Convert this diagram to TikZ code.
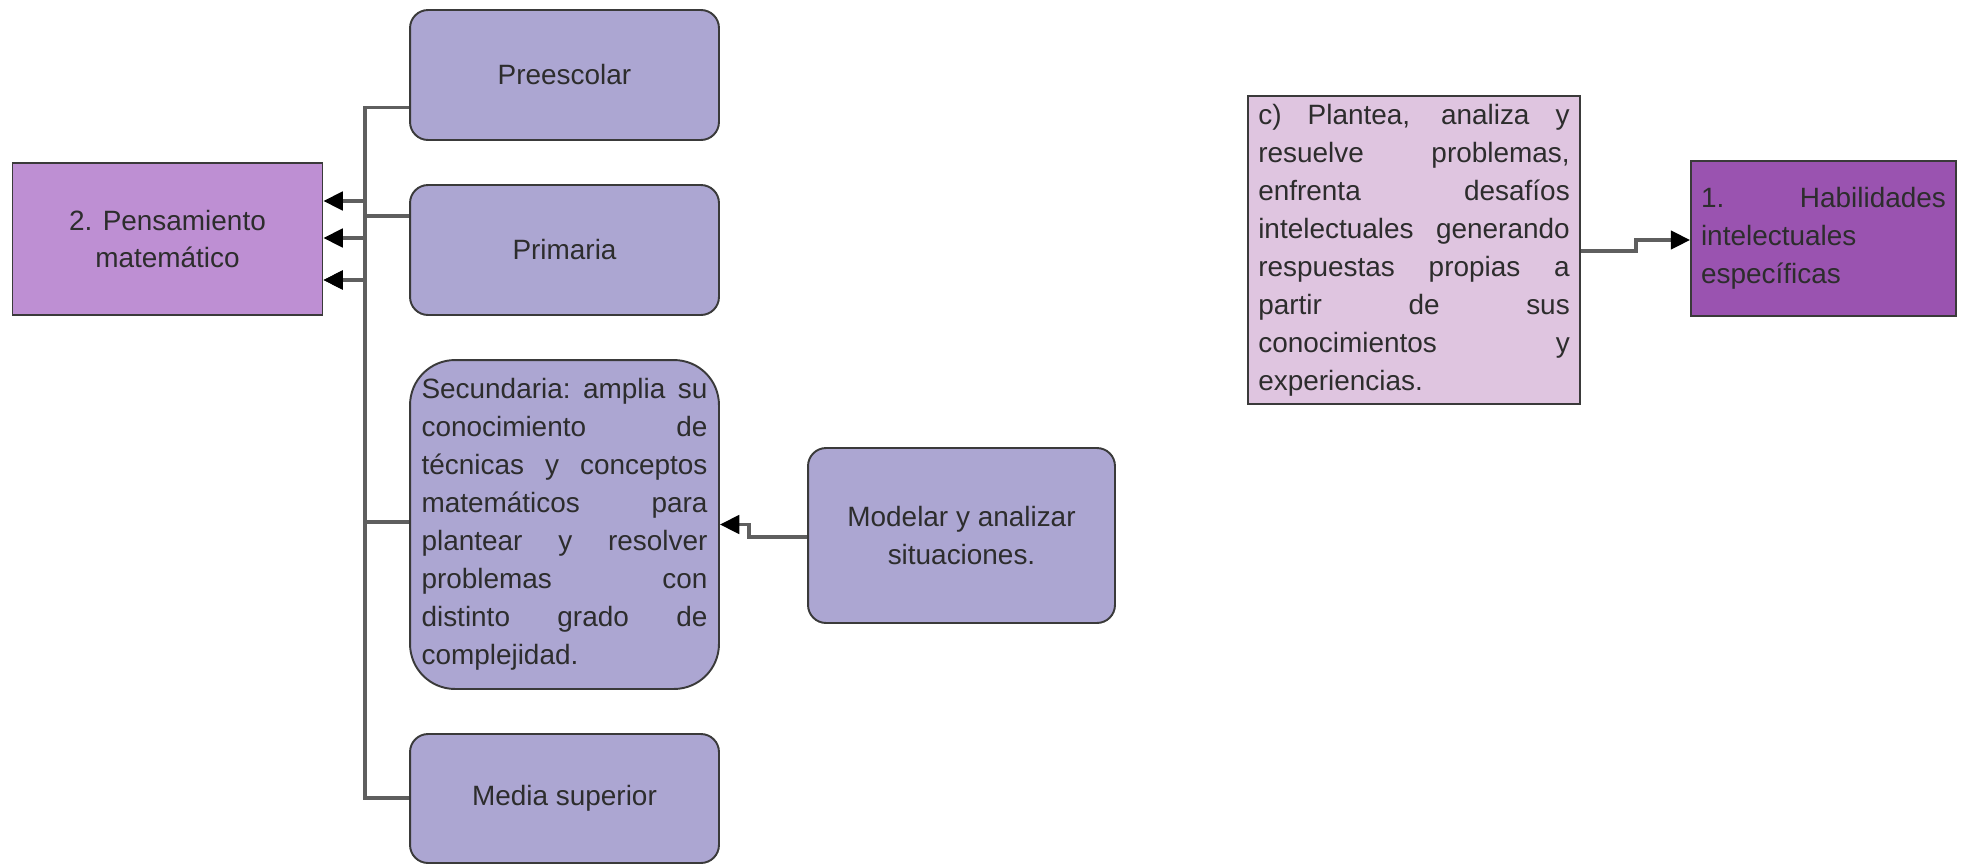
\documentclass[tikz,border=0pt]{standalone}
\usepackage{fontspec}
\setmainfont{Liberation Sans}
\usepackage{tikz}
\usetikzlibrary{arrows.meta}

\definecolor{nivelc}{RGB}{172,166,210}
\definecolor{pensc}{RGB}{190,143,211}
\definecolor{plantc}{RGB}{223,197,224}
\definecolor{habc}{RGB}{154,83,176}
\definecolor{borde}{RGB}{58,58,58}
\definecolor{linea}{RGB}{95,95,95}
\definecolor{texto}{RGB}{45,45,45}

\newcommand{\jline}[1]{\makebox[\hsize][s]{\spaceskip=.278em plus 1fil\xspaceskip=\spaceskip #1}}

\tikzset{
  caja/.style={draw=borde, line width=1.1pt, text=texto, font=\fontsize{15.9}{21.6}\selectfont, align=center, inner sep=0pt},
  nivel/.style={caja, fill=nivelc, rounded corners=0.36cm, minimum width=6.18cm},
  flecha/.style={draw=linea, line width=1.9pt, -{Triangle[length=11pt,width=10.5pt,black]}}
}

\begin{document}
\begin{tikzpicture}[x=0.02cm,y=-0.02cm]
\useasboundingbox (0,0) rectangle (1961,866);
% Draw main boxes
\node[caja, fill=pensc, minimum width=6.2cm, minimum height=3.05cm] (pens) at (167.5,239) {2. Pensamiento\\matemático};
\node[caja, fill=plantc, minimum width=6.64cm, minimum height=6.16cm, text width=6.23cm, align=left] (pla) at (1414,250)
  {\jline{c) Plantea, analiza y}\\\jline{resuelve problemas,}\\\jline{enfrenta desafíos}\\\jline{intelectuales generando}\\\jline{respuestas propias a}\\\jline{partir de sus}\\\jline{conocimientos y}\\experiencias.};
\node[caja, fill=habc, minimum width=5.3cm, minimum height=3.1cm, text width=4.9cm, align=left] (hab) at (1823.5,238.5)
  {\jline{1. Habilidades}\\intelectuales\\específicas};
% Draw level boxes
\node[nivel, minimum height=2.6cm] (pre) at (564.5,75) {Preescolar};
\node[nivel, minimum height=2.6cm] (pri) at (564.5,250) {Primaria};
\node[nivel, minimum height=6.58cm, rounded corners=0.9cm, text width=5.72cm, align=left] (sec) at (564.5,524.5)
  {\jline{Secundaria: amplia su}\\\jline{conocimiento de}\\\jline{técnicas y conceptos}\\\jline{matemáticos para}\\\jline{plantear y resolver}\\\jline{problemas con}\\\jline{distinto grado de}\\complejidad.};
\node[nivel, minimum height=2.58cm] (med) at (564.5,798.5) {Media superior};
\node[nivel, minimum width=6.14cm, minimum height=3.5cm] (mod) at (961.5,535.5) {Modelar y analizar\\situaciones.};
% Draw trunk points
\coordinate (t0) at (365,107.5);
\coordinate (t1) at (365,216);
\coordinate (t2) at (365,522);
\coordinate (t3) at (365,798);
\coordinate (a1) at (365,201);
\coordinate (a2) at (365,238);
\coordinate (a3) at (365,280);
% Draw connectors
\draw[flecha] (pre.west |- t0) -- (t0) -- (a3) -- (pens.east |- a3);
\draw[flecha] (pri.west |- t1) -- (t1) -- (a1) -- (pens.east |- a1);
\draw[flecha] (sec.west |- t2) -- (t2) -- (a2) -- (pens.east |- a2);
\draw[flecha] (med.west |- t3) -- (t3) -- (a3) -- (pens.east |- a3);
\coordinate (m1) at (749,537);
\coordinate (m2) at (749,524.5);
\draw[flecha] (mod.west |- m1) -- (m1) -- (m2) -- (sec.east |- m2);
\coordinate (h1) at (1636,251);
\coordinate (h2) at (1636,240);
\draw[flecha] (pla.east |- h1) -- (h1) -- (h2) -- (hab.west |- h2);
\end{tikzpicture}
\end{document}
